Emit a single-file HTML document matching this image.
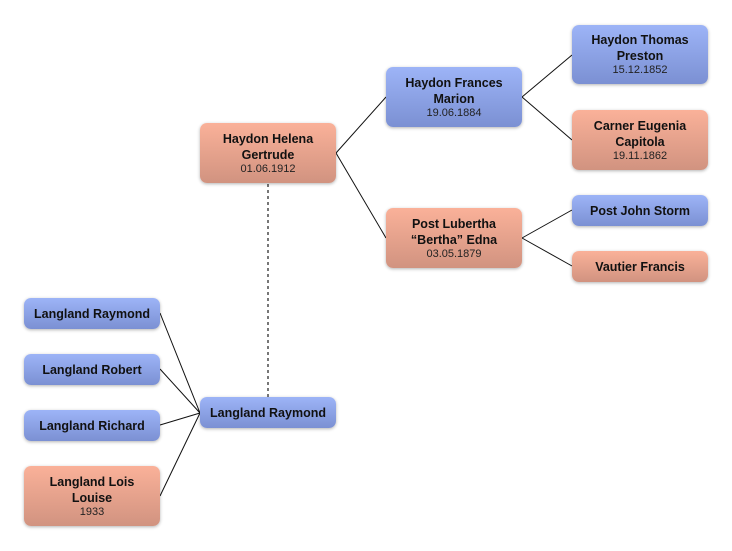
<!DOCTYPE html>
<html><head><style>
body{margin:0;width:732px;height:551px;background:#fff;position:relative;font-family:"Liberation Sans","DejaVu Sans",sans-serif;overflow:hidden}
.n{position:absolute;width:136px;border-radius:7px;box-shadow:0 1px 3px rgba(0,0,0,.3);display:flex;flex-direction:column;justify-content:center;align-items:center;text-align:center;font-size:12.5px;font-weight:bold;color:#111;line-height:16px}
.b{background:linear-gradient(#9db4f7,#7b90d3)}
.r{background:linear-gradient(#fab199,#d19380)}
.n span{font-weight:normal;font-size:11px;line-height:13px;color:#222}
svg{position:absolute;left:0;top:0}
</style></head><body>
<svg width="732" height="551">
<g stroke="#111" stroke-width="1" fill="none">
<path d="M336 153L386 97M336 153L386 238M522 97L572 55M522 97L572 140M522 238L572 210M522 238L572 266M160 313L200 413M160 369L200 413M160 425L200 413M160 496L200 413"/>
</g>
<path d="M268 184V397" stroke="#777" stroke-width="2" stroke-dasharray="3,3"/>
</svg>
<div class="n r" style="left:200px;top:123px;height:60px">Haydon Helena<br>Gertrude<span>01.06.1912</span></div>
<div class="n b" style="left:386px;top:67px;height:60px">Haydon Frances<br>Marion<span>19.06.1884</span></div>
<div class="n r" style="left:386px;top:208px;height:60px">Post Lubertha<br>“Bertha” Edna<span>03.05.1879</span></div>
<div class="n b" style="left:572px;top:25px;height:59px">Haydon Thomas<br>Preston<span>15.12.1852</span></div>
<div class="n r" style="left:572px;top:110px;height:60px">Carner Eugenia<br>Capitola<span>19.11.1862</span></div>
<div class="n b" style="left:572px;top:195px;height:31px">Post John Storm</div>
<div class="n r" style="left:572px;top:251px;height:31px">Vautier Francis</div>
<div class="n b" style="left:24px;top:298px;height:31px">Langland Raymond</div>
<div class="n b" style="left:24px;top:354px;height:31px">Langland Robert</div>
<div class="n b" style="left:24px;top:410px;height:31px">Langland Richard</div>
<div class="n r" style="left:24px;top:466px;height:60px">Langland Lois<br>Louise<span>1933</span></div>
<div class="n b" style="left:200px;top:397px;height:31px">Langland Raymond</div>
</body></html>
